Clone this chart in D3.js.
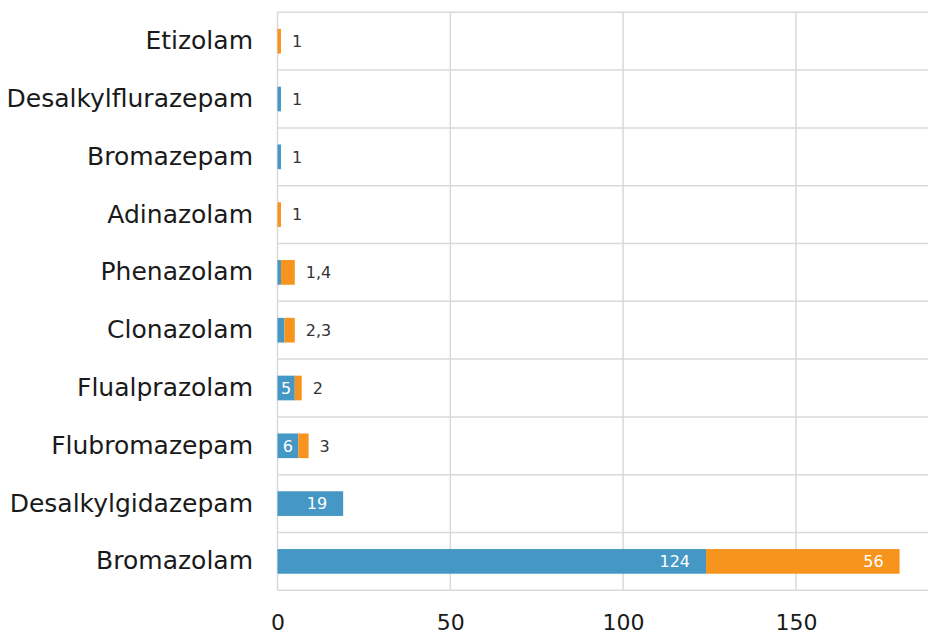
<!DOCTYPE html>
<html>
<head>
<meta charset="utf-8">
<script src="https://cdn.jsdelivr.net/npm/d3@7"></script>
<style>
  body { margin: 0; background: #fff; }
  svg { display: block; overflow: hidden; }
  text { font-family: "DejaVu Sans", sans-serif; }
</style>
</head>
<body>
<script>
var svgWidth = 928;
var svgHeight = 634;

// data, top row first
var categories = ["Etizolam", "Desalkylflurazepam", "Bromazepam", "Adinazolam", "Phenazolam",
                  "Clonazolam", "Flualprazolam", "Flubromazepam", "Desalkylgidazepam", "Bromazolam"];
var blueValues   = [0, 1, 1, 0, 1, 2, 5, 6, 19, 124];
var orangeValues = [1, 0, 0, 1, 4, 3, 2, 3, 0, 56];
var xTicks = [0, 50, 100, 150];

var colors = {blue: "#4597c5", orange: "#f7941e"};
var gridColor = "#d9d9d9";

var plot = {left: 277.5, top: 12.3, bottom: 590.3};

var svg = d3.select("body")
            .append("svg")
            .attr("width", svgWidth)
            .attr("height", svgHeight);

// x scale runs past the window edge like the original
var xScale = d3.scaleLinear()
               .domain([0, 200])
               .range([plot.left, plot.left + 200 * 3.456]);

var yScale = d3.scaleBand()
               .domain(categories)
               .range([plot.top, plot.bottom])
               .padding(0);

var step = yScale.step();
var barH = step * 0.427;

// horizontal grid lines between categories
var rowEdges = categories.map(c => yScale(c)).concat([plot.bottom]);
svg.append("g")
   .selectAll("line")
   .data(rowEdges)
   .enter()
   .append("line")
   .attr("x1", plot.left)
   .attr("x2", xScale(200))
   .attr("y1", d => d)
   .attr("y2", d => d)
   .attr("stroke", gridColor)
   .attr("stroke-width", 1.5);

// vertical grid lines
svg.append("g")
   .selectAll("line")
   .data(xTicks)
   .enter()
   .append("line")
   .attr("x1", d => xScale(d))
   .attr("x2", d => xScale(d))
   .attr("y1", plot.top)
   .attr("y2", plot.bottom)
   .attr("stroke", gridColor)
   .attr("stroke-width", 1.5);

// x axis labels
var bottomAxis = d3.axisBottom(xScale)
                   .tickValues(xTicks)
                   .tickSize(0)
                   .tickPadding(0);

var xAxis = svg.append("g")
               .attr("transform", `translate(0, ${plot.bottom})`)
               .call(bottomAxis);
xAxis.select(".domain").remove();
xAxis.selectAll("text")
     .attr("y", 32)
     .attr("dy", "0.35em")
     .attr("fill", "#1a1a1a")
     .style("font-size", "22px")
     .style("font-family", "DejaVu Sans");

// category labels
var leftAxis = d3.axisLeft(yScale)
                 .tickSize(0)
                 .tickPadding(24.5);

var yAxis = svg.append("g")
               .attr("transform", `translate(${plot.left}, 0)`)
               .call(leftAxis);
yAxis.select(".domain").remove();
yAxis.selectAll("text")
     .attr("fill", "#1a1a1a")
     .style("font-size", "25px")
     .style("font-family", "DejaVu Sans");

// stacked bars
var rows = categories.map((c, i) => ({cat: c, blue: blueValues[i], orange: orangeValues[i]}));

var barsGroup = svg.append("g");

rows.forEach(function(d) {
  var yTop = yScale(d.cat) + (step - barH) / 2;
  var yMid = yScale(d.cat) + step / 2;
  var segs = [
    {key: "blue", start: 0, value: d.blue},
    {key: "orange", start: d.blue, value: d.orange}
  ].filter(s => s.value > 0);

  segs.forEach(function(s) {
    barsGroup.append("rect")
             .attr("x", xScale(s.start))
             .attr("y", yTop)
             .attr("width", xScale(s.start + s.value) - xScale(s.start))
             .attr("height", barH)
             .attr("fill", colors[s.key]);
  });

  // labels that fit go inside, the rest are joined after the bar
  var outside = [];
  segs.forEach(function(s) {
    if (s.value >= 5) {
      var x0 = xScale(s.start);
      var x1 = xScale(s.start + s.value);
      var t = barsGroup.append("text")
                       .attr("y", yMid)
                       .attr("dy", "0.36em")
                       .attr("text-anchor", "end")
                       .attr("fill", "#fff")
                       .style("font-size", "16px")
                       .text(s.value);
      var w = t.node().getComputedTextLength();
      t.attr("x", Math.max(x1 - 16, (x0 + x1) / 2 + w / 2));
    } else {
      outside.push(s.value);
    }
  });

  if (outside.length) {
    barsGroup.append("text")
             .attr("x", xScale(d.blue + d.orange) + 11)
             .attr("y", yMid)
             .attr("dy", "0.36em")
             .attr("fill", "#333")
             .style("font-size", "16px")
             .text(outside.join(","));
  }
});
</script>
</body>
</html>
